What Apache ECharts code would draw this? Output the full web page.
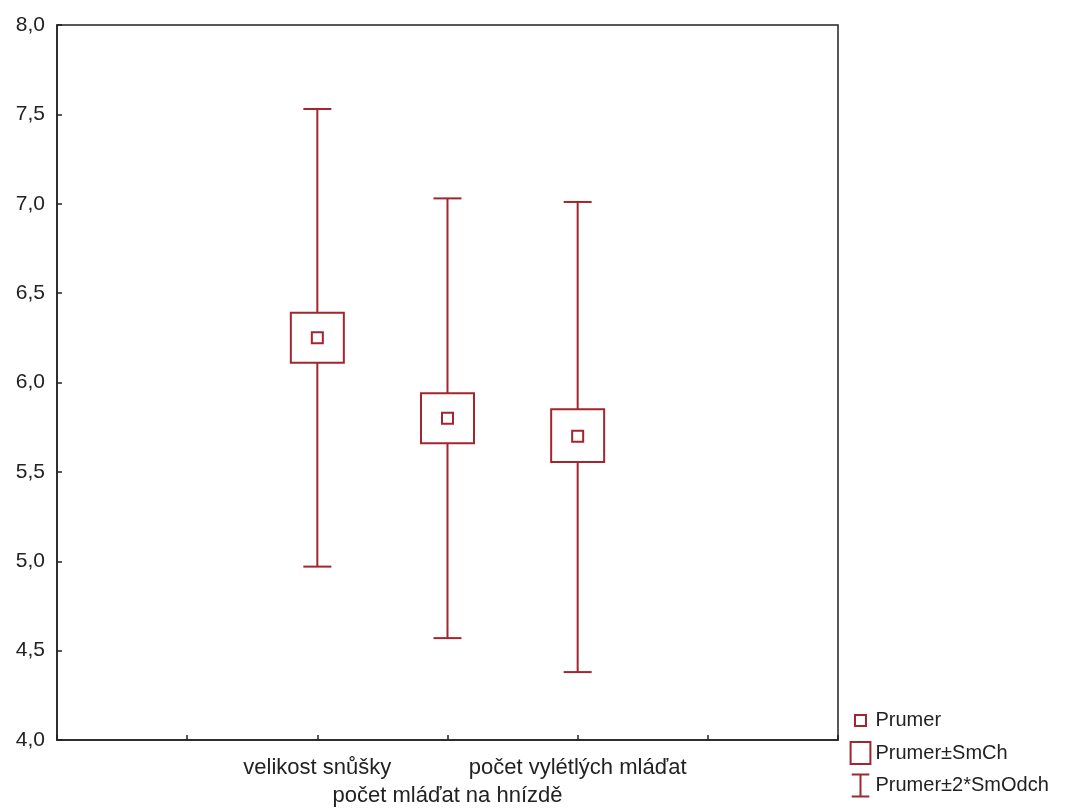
<!DOCTYPE html>
<html>
<head>
<meta charset="utf-8">
<script src="https://cdn.jsdelivr.net/npm/echarts@6/dist/echarts.min.js"></script>
<style>
  html, body { margin: 0; padding: 0; background: #fff; }
  #chart { width: 1077px; height: 810px; }
</style>
</head>
<body>
<div id="chart"></div>
<script>
// data
var categories = ['velikost snůšky', 'počet mláďat na hnízdě', 'počet vylétlých mláďat'];
var catX = [2, 3, 4];               // slot of each category on the 0..6 axis
var means = [6.25, 5.80, 5.70];
var seLow = [6.11, 5.66, 5.555];
var seHigh = [6.39, 5.94, 5.85];
var sdLow = [4.97, 4.57, 4.38];
var sdHigh = [7.53, 7.03, 7.01];
var yTicks = [4.0, 4.5, 5.0, 5.5, 6.0, 6.5, 7.0, 7.5, 8.0];
var legendNames = ['Prumer', 'Prumer±SmCh', 'Prumer±2*SmOdch'];

var red = '#a3262e';
var font = 'Liberation Sans, Arial, sans-serif';

var chart = echarts.init(document.getElementById('chart'));

function rows(a, b) {
  return catX.map(function (x, i) { return [x, a[i], b ? b[i] : null]; });
}

chart.setOption({
  animation: false,
  grid: {
    left: 57, top: 25, right: 239, bottom: 64,
    show: true, borderColor: '#222', borderWidth: 1.5
  },
  legend: {
    orient: 'vertical',
    left: 848, top: 707,
    itemWidth: 20, itemHeight: 22, itemGap: 5.5,
    padding: 0,
    selectedMode: false,
    textStyle: { fontFamily: font, fontSize: 20, color: '#222' },
    data: [
      { name: legendNames[0], icon: 'path://M0 0 M20 22 M4.5 5.5 L15.5 5.5 L15.5 16.5 L4.5 16.5 Z',
        itemStyle: { color: 'none', borderColor: red, borderWidth: 2 } },
      { name: legendNames[1], icon: 'path://M1 1 L19 1 L19 21 L1 21 Z',
        itemStyle: { color: 'none', borderColor: red, borderWidth: 2 } },
      { name: legendNames[2], icon: 'path://M2 1 L18 1 M10 1 L10 21 M2 21 L18 21',
        itemStyle: { color: 'none', borderColor: red, borderWidth: 2 } }
    ]
  },
  xAxis: {
    type: 'value', min: 0, max: 6, interval: 1,
    axisLine: { lineStyle: { color: '#222', width: 1.5 } },
    axisTick: { inside: true, length: 5, lineStyle: { color: '#222', width: 1.5 } },
    splitLine: { show: false },
    axisLabel: {
      margin: 14,
      fontFamily: font, fontSize: 22, color: '#222', lineHeight: 28,
      formatter: function (v) {
        var i = catX.indexOf(v);
        if (i < 0) return '';
        return i === 1 ? '\n' + categories[i] : categories[i];
      }
    }
  },
  yAxis: {
    type: 'value', min: 4, max: 8, interval: 0.5,
    axisLine: { show: true, lineStyle: { color: '#222', width: 1.5 } },
    axisTick: { show: true, inside: true, length: 5, lineStyle: { color: '#222', width: 1.5 } },
    splitLine: { show: false },
    axisLabel: {
      margin: 12,
      fontFamily: font, fontSize: 21, color: '#222',
      formatter: function (v) {
        var t = yTicks.filter(function (k) { return Math.abs(k - v) < 1e-6; })[0];
        return t === undefined ? '' : t.toFixed(1).replace('.', ',');
      }
    }
  },
  series: [
    {
      name: legendNames[2],
      type: 'custom',
      data: rows(sdLow, sdHigh),
      z: 2,
      renderItem: function (params, api) {
        var lo = api.coord([api.value(0), api.value(1)]);
        var hi = api.coord([api.value(0), api.value(2)]);
        var half = 14;
        var st = { stroke: red, lineWidth: 2 };
        return {
          type: 'group',
          children: [
            { type: 'line', shape: { x1: lo[0], y1: lo[1], x2: hi[0], y2: hi[1] }, style: st },
            { type: 'line', shape: { x1: lo[0] - half, y1: lo[1], x2: lo[0] + half, y2: lo[1] }, style: st },
            { type: 'line', shape: { x1: hi[0] - half, y1: hi[1], x2: hi[0] + half, y2: hi[1] }, style: st }
          ]
        };
      }
    },
    {
      name: legendNames[1],
      type: 'custom',
      data: rows(seLow, seHigh),
      z: 3,
      renderItem: function (params, api) {
        var lo = api.coord([api.value(0), api.value(1)]);
        var hi = api.coord([api.value(0), api.value(2)]);
        var w = 53;
        return {
          type: 'rect',
          shape: { x: lo[0] - w / 2, y: hi[1], width: w, height: lo[1] - hi[1] },
          style: { fill: '#fff', stroke: red, lineWidth: 2 }
        };
      }
    },
    {
      name: legendNames[0],
      type: 'scatter',
      data: rows(means),
      z: 4,
      symbol: 'rect',
      symbolSize: 11,
      itemStyle: { color: '#fff', borderColor: red, borderWidth: 2, opacity: 1 }
    }
  ]
});
</script>
</body>
</html>
